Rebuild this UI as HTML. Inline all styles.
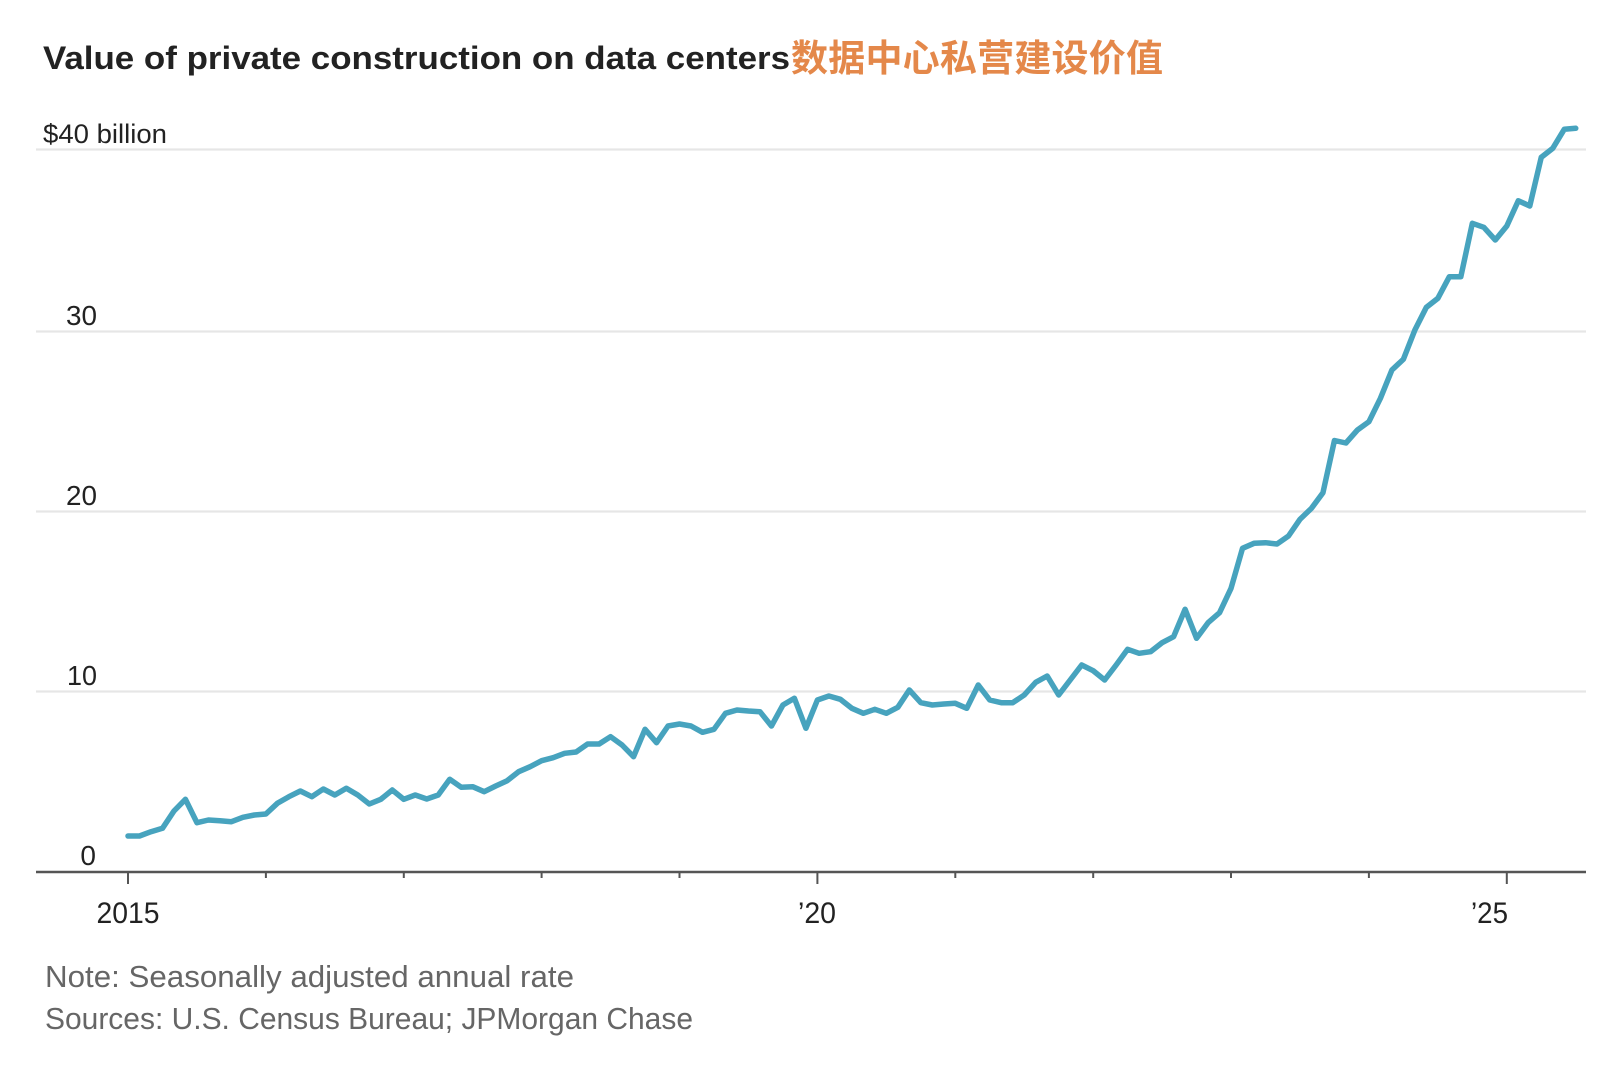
<!DOCTYPE html>
<html>
<head>
<meta charset="utf-8">
<style>
  html, body { margin:0; padding:0; background:#ffffff; }
  body { width:1616px; height:1068px; overflow:hidden; }
  svg { display:block; }
  text { font-family: "Liberation Sans", "Noto Sans CJK SC", sans-serif; }
</style>
</head>
<body>
<svg width="1616" height="1068" viewBox="0 0 1616 1068" xmlns="http://www.w3.org/2000/svg">
  <rect x="0" y="0" width="1616" height="1068" fill="#ffffff"/>

  <!-- Title -->
  <text x="43" y="69" font-size="32" font-weight="bold" fill="#222222" textLength="747" lengthAdjust="spacingAndGlyphs">Value of private construction on data centers</text>
  <text x="791" y="71" font-size="37" font-weight="bold" fill="#E4884A" textLength="372" lengthAdjust="spacing" style="font-family:'Noto Sans CJK SC', sans-serif;">数据中心私营建设价值</text>

  <!-- Gridlines -->
  <g stroke="#e6e6e6" stroke-width="2.2">
    <line x1="36" y1="149.5" x2="1586" y2="149.5"/>
    <line x1="36" y1="331.5" x2="1586" y2="331.5"/>
    <line x1="36" y1="511.5" x2="1586" y2="511.5"/>
    <line x1="36" y1="691.5" x2="1586" y2="691.5"/>
  </g>

  <!-- Y labels -->
  <g font-size="28" fill="#222222">
    <text x="43" y="143" font-size="27" textLength="124" lengthAdjust="spacingAndGlyphs">$40 billion</text>
    <text x="97" y="325" text-anchor="end" textLength="31" lengthAdjust="spacingAndGlyphs">30</text>
    <text x="97" y="505" text-anchor="end" textLength="31" lengthAdjust="spacingAndGlyphs">20</text>
    <text x="97" y="685" text-anchor="end" textLength="30" lengthAdjust="spacingAndGlyphs">10</text>
    <text x="96" y="865" text-anchor="end">0</text>
  </g>

  <!-- Data line -->
  <polyline fill="none" stroke="#47A3BE" stroke-width="5.5" stroke-linejoin="round" stroke-linecap="round"
    points="128,836 139.49,836 150.98,831.7 162.47,828.3 173.96,811 185.45,799.3 196.94,822.7 208.43,820 219.92,820.7 231.41,821.7 242.9,817.3 254.39,815 265.88,814 277.37,803.3 288.86,796.7 300.35,791 311.84,796.7 323.33,789 334.82,795 346.31,788.3 357.8,795 369.29,804 380.78,799.3 392.27,790 403.76,799.3 415.25,795 426.74,799 438.23,795 449.72,779.3 461.21,787.3 472.7,786.7 484.19,791.7 495.68,786 507.17,780.7 518.66,771.7 530.15,766.7 541.64,760.7 553.13,757.7 564.62,753.3 576.11,752 587.6,744 599.09,744 610.58,736.7 622.07,745 633.56,756.7 645.05,729.3 656.54,742.7 668.03,726 679.52,724 691.01,726 702.5,732.3 713.99,729.3 725.48,713.3 736.97,710 748.46,711 759.95,711.7 771.44,726 782.93,705 794.42,698.3 805.91,728.3 817.4,700 828.89,696 840.38,699.3 851.87,708.3 863.36,713.3 874.85,709.3 886.34,713.3 897.83,707.3 909.32,690 920.81,702.7 932.3,705 943.79,704 955.28,703.3 966.77,708.3 978.26,685 989.75,700 1001.24,702.7 1012.73,702.7 1024.22,695 1035.71,682.3 1047.2,676 1058.69,695 1070.18,680 1081.67,665 1093.16,670.7 1104.65,680 1116.14,665 1127.63,649.3 1139.12,653.3 1150.61,651.7 1162.1,642.7 1173.59,636.7 1185.08,609.3 1196.57,638.3 1208.06,622.7 1219.55,612.7 1231.04,588.3 1242.53,548.3 1254.02,543.3 1265.51,542.7 1277,544 1288.49,536 1299.98,519.3 1311.47,508.3 1322.96,492.7 1334.45,440.5 1345.94,443 1357.43,430 1368.92,421.7 1380.41,398.3 1391.9,370 1403.39,359.3 1414.88,330 1426.37,307.3 1437.86,298.3 1449.35,276.7 1460.84,276.7 1472.33,223.3 1483.82,227.3 1495.31,240 1506.8,226 1518.29,200.7 1529.78,206 1541.27,157.3 1552.76,148.3 1564.25,129.3 1575.74,128.3"/>

  <!-- X axis -->
  <line x1="36" y1="872" x2="1586" y2="872" stroke="#555555" stroke-width="2.4"/>
  <g stroke="#555555" stroke-width="2">
    <line x1="128" y1="872" x2="128" y2="884"/>
    <line x1="265.9" y1="872" x2="265.9" y2="878"/>
    <line x1="403.8" y1="872" x2="403.8" y2="878"/>
    <line x1="541.6" y1="872" x2="541.6" y2="878"/>
    <line x1="679.5" y1="872" x2="679.5" y2="878"/>
    <line x1="817.4" y1="872" x2="817.4" y2="884"/>
    <line x1="955.3" y1="872" x2="955.3" y2="878"/>
    <line x1="1093.2" y1="872" x2="1093.2" y2="878"/>
    <line x1="1231" y1="872" x2="1231" y2="878"/>
    <line x1="1368.9" y1="872" x2="1368.9" y2="878"/>
    <line x1="1506.8" y1="872" x2="1506.8" y2="884"/>
  </g>

  <!-- X labels -->
  <g font-size="30" fill="#222222">
    <text x="128" y="923" text-anchor="middle" textLength="63" lengthAdjust="spacingAndGlyphs">2015</text>
    <text x="817" y="923" text-anchor="middle" textLength="38" lengthAdjust="spacingAndGlyphs">’20</text>
    <text x="1508" y="923" text-anchor="end" textLength="37" lengthAdjust="spacingAndGlyphs">’25</text>
  </g>

  <!-- Notes -->
  <g font-size="31" fill="#666666">
    <text x="45" y="987" textLength="529" lengthAdjust="spacingAndGlyphs">Note: Seasonally adjusted annual rate</text>
    <text x="45" y="1029" textLength="648" lengthAdjust="spacingAndGlyphs">Sources: U.S. Census Bureau; JPMorgan Chase</text>
  </g>
</svg>
</body>
</html>
